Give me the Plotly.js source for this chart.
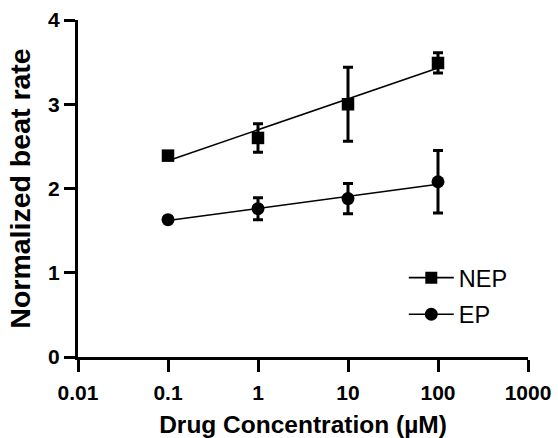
<!DOCTYPE html>
<html>
<head>
<meta charset="utf-8">
<script src="https://cdn.plot.ly/plotly-3.0.1.min.js"></script>
<style>html,body{margin:0;padding:0;background:#fff}#chart{width:558px;height:438px}</style>
</head>
<body>
<div id="chart"></div>
<script>
// Data
const conc = [0.1, 1, 10, 100];
const nepMean = [2.39, 2.60, 3.00, 3.49];
const nepErr = [0.03, 0.17, 0.44, 0.12];
const epMean = [1.63, 1.76, 1.88, 2.08];
const epErr = [0.02, 0.13, 0.18, 0.37];
// fitted regression lines (endpoints)
const fitX = [0.1, 100];
const nepFit = [2.33, 3.43];
const epFit = [1.62, 2.05];
const xTickVals = [0.01, 0.1, 1, 10, 100, 1000];
const xTickText = ['0.01', '0.1', '1', '10', '100', '1000'];
const yTickVals = [0, 1, 2, 3, 4];
const seriesNames = ['NEP', 'EP'];

const FONT = 'Arial, "Liberation Sans", sans-serif';
const black = '#000000';

const errStyle = (arr) => ({type: 'data', array: arr, visible: true, color: black, thickness: 3, width: 5});

const traces = [
  {x: fitX, y: nepFit, mode: 'lines', line: {color: black, width: 1.6}, showlegend: false, hoverinfo: 'skip'},
  {x: fitX, y: epFit, mode: 'lines', line: {color: black, width: 1.6}, showlegend: false, hoverinfo: 'skip'},
  {x: conc, y: nepMean, mode: 'markers', marker: {symbol: 'square', size: 12.5, color: black}, error_y: errStyle(nepErr), showlegend: false},
  {x: conc, y: epMean, mode: 'markers', marker: {symbol: 'circle', size: 13, color: black}, error_y: errStyle(epErr), showlegend: false},
  {x: [null], y: [null], name: seriesNames[0], legendgroup: 'a', mode: 'lines+markers', line: {color: black, width: 1.6}, marker: {symbol: 'square', size: 12, color: black}},
  {x: [null], y: [null], name: seriesNames[1], legendgroup: 'b', mode: 'lines+markers', line: {color: black, width: 1.6}, marker: {symbol: 'circle', size: 13, color: black}}
];

const layout = {
  width: 558, height: 438,
  margin: {l: 78, r: 30, t: 20, b: 81, pad: 0},
  paper_bgcolor: '#fff', plot_bgcolor: '#fff',
  font: {family: FONT, color: black},
  showlegend: true,
  legend: {x: 0.724, y: 0.30, xanchor: 'left', yanchor: 'top', bgcolor: 'rgba(0,0,0,0)',
    font: {family: FONT, size: 23.5, color: black}, itemwidth: 45, tracegroupgap: 3, traceorder: 'grouped'},
  xaxis: {
    type: 'log', range: [-2, 3], tickvals: xTickVals, ticktext: xTickText,
    showgrid: false, zeroline: false, showline: true, linecolor: black, linewidth: 3,
    ticks: 'outside', ticklen: 12, tickwidth: 3, tickcolor: black, ticklabelstandoff: 3,
    tickfont: {family: FONT, size: 21, weight: 'bold', color: black},
    title: {text: 'Drug Concentration (µM)', font: {family: FONT, size: 24.5, weight: 'bold', color: black}, standoff: 13}
  },
  yaxis: {
    range: [0, 4], tickvals: yTickVals,
    showgrid: false, zeroline: false, showline: true, linecolor: black, linewidth: 3,
    ticks: 'outside', ticklen: 11, tickwidth: 3, tickcolor: black,
    tickfont: {family: FONT, size: 21, weight: 'bold', color: black},
    title: {text: 'Normalized beat rate', font: {family: FONT, size: 28.5, weight: 'bold', color: black}, standoff: 10}
  }
};

Plotly.newPlot('chart', traces, layout, {displayModeBar: false, staticPlot: true});
</script>
</body>
</html>
